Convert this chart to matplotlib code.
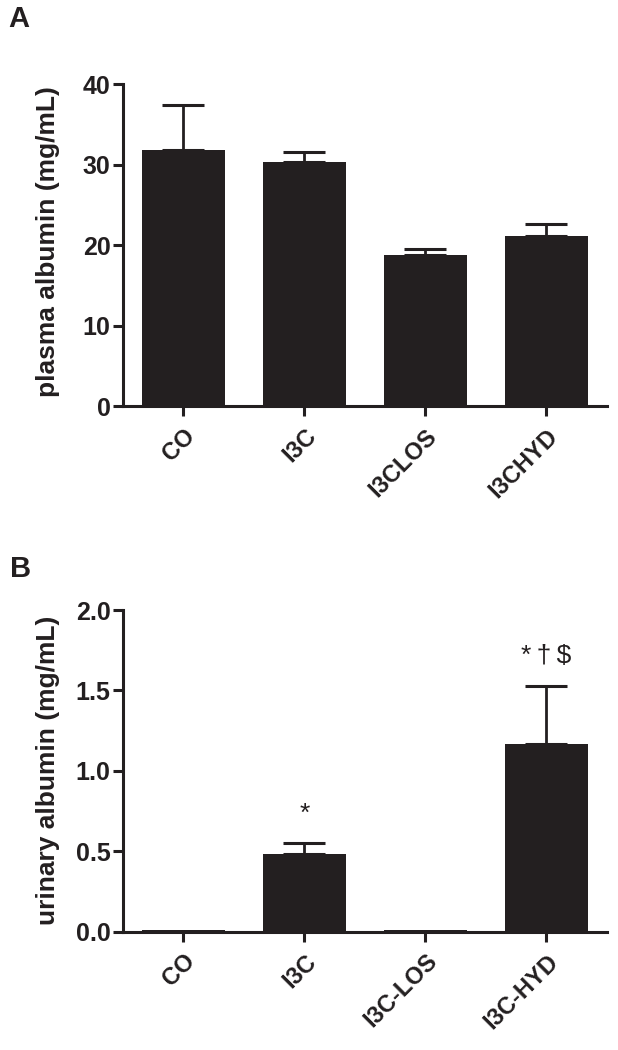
import numpy as np
import matplotlib.pyplot as plt

plt.rcParams['font.family'] = ['Liberation Sans', 'DejaVu Sans']

# Panel A: plasma albumin
groups_a = ['CO', 'I3C', 'I3CLOS', 'I3CHYD']
plasma_mean = [31.8, 30.3, 18.8, 21.2]
plasma_sem = [5.6, 1.3, 0.7, 1.4]

# Panel B: urinary albumin
groups_b = ['CO', 'I3C', 'I3C-LOS', 'I3C-HYD']
urine_mean = [0.008, 0.48, 0.008, 1.17]
urine_sem = [0.0, 0.07, 0.0, 0.36]
urine_marks = ['', '*', '', '*\u2009\u2020\u2009$']

bar_col = '#231f20'

fig = plt.figure(figsize=(6.18, 10.5), dpi=100)
ax1 = fig.add_axes([0.199, 0.613, 0.783, 0.307])
ax2 = fig.add_axes([0.199, 0.1127, 0.783, 0.3063])


def style(ax, labels, ylabel, ylab_y):
    x = np.arange(len(labels))
    ax.set_xlim(-0.5, len(labels) - 0.5)
    ax.set_xticks(x)
    ax.set_xticklabels(labels, rotation=45, ha='right', rotation_mode='anchor',
                       fontsize=17, fontweight='bold', color=bar_col)
    ax.spines['top'].set_visible(False)
    ax.spines['right'].set_visible(False)
    for s in ['left', 'bottom']:
        ax.spines[s].set_linewidth(2.2)
        ax.spines[s].set_color(bar_col)
    ax.tick_params(axis='both', width=2.2, length=7, color=bar_col)
    ax.tick_params(axis='x', pad=6)
    ax.tick_params(axis='y', pad=2, labelsize=18, labelcolor=bar_col)
    for t in ax.get_yticklabels():
        t.set_fontweight('bold')
    ax.set_ylabel(ylabel, fontsize=19, fontweight='bold', color=bar_col)
    ax.yaxis.set_label_coords(-0.13, ylab_y)


x = np.arange(4)
ax1.bar(x, plasma_mean, width=0.68, color=bar_col, zorder=2)
ax1.errorbar(x, plasma_mean, yerr=[np.zeros(4), plasma_sem], fmt='none',
             ecolor=bar_col, elinewidth=2.0, capsize=15, capthick=2.2, zorder=1)
ax1.set_ylim(0, 40)
ax1.set_yticks([0, 10, 20, 30, 40])
style(ax1, groups_a, 'plasma albumin (mg/mL)', 0.512)

ax2.bar(x, urine_mean, width=0.68, color=bar_col, zorder=2)
ax2.errorbar(x[[1, 3]], np.array(urine_mean)[[1, 3]],
             yerr=[np.zeros(2), np.array(urine_sem)[[1, 3]]], fmt='none',
             ecolor=bar_col, elinewidth=2.0, capsize=15, capthick=2.2, zorder=1)
ax2.set_ylim(0, 2.0)
ax2.set_yticks([0, 0.5, 1.0, 1.5, 2.0])
ax2.set_yticklabels(['0.0', '0.5', '1.0', '1.5', '2.0'])
style(ax2, groups_b, 'urinary albumin (mg/mL)', 0.503)
for i, m in enumerate(urine_marks):
    if m:
        top = urine_mean[i] + urine_sem[i]
        ax2.text(i, top + 0.14, m, ha='center', va='baseline', fontsize=19, color=bar_col)

fig.text(0.013, 0.995, 'A', fontsize=21, fontweight='bold', va='top', color=bar_col)
fig.text(0.016, 0.4714, 'B', fontsize=21, fontweight='bold', va='top', color=bar_col)

fig.savefig('out.png', dpi=100)
